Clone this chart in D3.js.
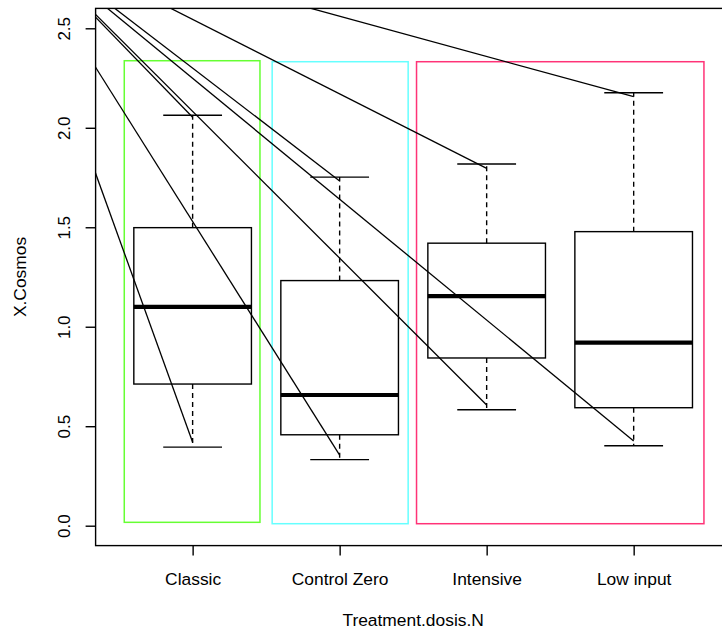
<!DOCTYPE html>
<html>
<head>
<meta charset="utf-8">
<script src="https://cdn.jsdelivr.net/npm/d3@7"></script>
<style>
  html, body { margin: 0; padding: 0; background: #fff; }
  svg { display: block; font-family: "Liberation Sans", Arial, Helvetica, sans-serif; }
</style>
</head>
<body>
<svg id="chart" width="722" height="630"></svg>
<script>
// Treatment groups on the x axis
const categories = ["Classic", "Control Zero", "Intensive", "Low input"];

// Five-number summaries per treatment
const lowerWhisker = [0.395, 0.332, 0.583, 0.402];
const q1           = [0.712, 0.457, 0.843, 0.593];
const medians      = [1.100, 0.657, 1.154, 0.920];
const q3           = [1.498, 1.232, 1.420, 1.478];
const upperWhisker = [2.063, 1.752, 1.818, 2.176];

// Annotation rays: shared origin and the upper/lower end point for each group
const rayOrigin = [-0.27, 3.02];
const rayUpperEnd = [2.053, 1.733, 1.796, 2.156];
const rayLowerEnd = [0.419, 0.355, 0.607, 0.426];

// Grouping rectangles: [x0, x1, y0, y1] in data units
const groupNames = ["Classic", "Control Zero", "Intensive + Low input"];
const groupX0 = [0.535, 1.541, 2.523];
const groupX1 = [1.458, 2.466, 4.478];
const groupY0 = [0.017, 0.010, 0.010];
const groupY1 = [2.337, 2.332, 2.332];
const groupColors = ["#66ff33", "#66ffff", "#ff3377"];

const yTicks = [0, 0.5, 1.0, 1.5, 2.0, 2.5];
const xTitle = "Treatment.dosis.N";
const yTitle = "X.Cosmos";

const svg = d3.select("#chart");
const plot = { left: 95.6, right: 730.7, top: 8.4, bottom: 545.6 };

const x = d3.scaleLinear().domain([0.34, 4.66]).range([plot.left, plot.right]);
const y = d3.scaleLinear().domain([-0.1, 2.6]).range([plot.bottom, plot.top]);

svg.append("defs").append("clipPath").attr("id", "plotClip")
  .append("rect")
  .attr("x", plot.left).attr("y", plot.top)
  .attr("width", plot.right - plot.left).attr("height", plot.bottom - plot.top);

const g = svg.append("g").attr("clip-path", "url(#plotClip)");

const lw = 1.4;
const boxHalf = 0.4, capHalf = 0.2;

// Boxplots
categories.forEach((c, i) => {
  const cx = i + 1;
  const bx = g.append("g");
  // whiskers (dashed)
  bx.append("line")
    .attr("x1", x(cx)).attr("x2", x(cx))
    .attr("y1", y(q3[i])).attr("y2", y(upperWhisker[i]))
    .attr("stroke", "#000").attr("stroke-width", lw).attr("stroke-dasharray", "5,4");
  bx.append("line")
    .attr("x1", x(cx)).attr("x2", x(cx))
    .attr("y1", y(q1[i])).attr("y2", y(lowerWhisker[i]))
    .attr("stroke", "#000").attr("stroke-width", lw).attr("stroke-dasharray", "5,4");
  // caps
  [upperWhisker[i], lowerWhisker[i]].forEach(v => {
    bx.append("line")
      .attr("x1", x(cx - capHalf)).attr("x2", x(cx + capHalf))
      .attr("y1", y(v)).attr("y2", y(v))
      .attr("stroke", "#000").attr("stroke-width", lw);
  });
  // box
  bx.append("rect")
    .attr("x", x(cx - boxHalf)).attr("width", x(cx + boxHalf) - x(cx - boxHalf))
    .attr("y", y(q3[i])).attr("height", y(q1[i]) - y(q3[i]))
    .attr("fill", "none").attr("stroke", "#000").attr("stroke-width", lw);
  // median
  bx.append("line")
    .attr("x1", x(cx - boxHalf)).attr("x2", x(cx + boxHalf))
    .attr("y1", y(medians[i])).attr("y2", y(medians[i]))
    .attr("stroke", "#000").attr("stroke-width", 4.2);
});

// Grouping rectangles
groupNames.forEach((n, i) => {
  g.append("rect")
    .attr("x", x(groupX0[i])).attr("width", x(groupX1[i]) - x(groupX0[i]))
    .attr("y", y(groupY1[i])).attr("height", y(groupY0[i]) - y(groupY1[i]))
    .attr("fill", "none").attr("stroke", groupColors[i]).attr("stroke-width", 1.5);
});

// Rays from the shared origin to each whisker end
categories.forEach((c, i) => {
  [rayUpperEnd[i], rayLowerEnd[i]].forEach(v => {
    g.append("line")
      .attr("x1", x(rayOrigin[0])).attr("y1", y(rayOrigin[1]))
      .attr("x2", x(i + 1)).attr("y2", y(v))
      .attr("stroke", "#000").attr("stroke-width", 1.3);
  });
});

// Plot frame
svg.append("rect")
  .attr("x", plot.left).attr("y", plot.top)
  .attr("width", plot.right - plot.left).attr("height", plot.bottom - plot.top)
  .attr("fill", "none").attr("stroke", "#000").attr("stroke-width", lw);

// Y axis
const yAxis = svg.append("g").attr("transform", `translate(${plot.left},0)`)
  .call(d3.axisLeft(y).tickValues(yTicks).tickSize(10).tickPadding(0)
    .tickFormat(d3.format(".1f")));
yAxis.select(".domain").remove();
yAxis.selectAll(".tick line").attr("stroke", "#000").attr("stroke-width", lw);
yAxis.selectAll(".tick text").remove();
yAxis.selectAll(".tick").append("text")
  .attr("transform", "translate(-25,0) rotate(-90)")
  .attr("text-anchor", "middle")
  .attr("dy", "-0.05em")
  .attr("fill", "#000")
  .style("font-size", "17px")
  .style("font-family", "'Liberation Sans', Arial, sans-serif")
  .text(d => d3.format(".1f")(d));

// X axis
const xAxis = svg.append("g").attr("transform", `translate(0,${plot.bottom})`)
  .call(d3.axisBottom(x).tickValues([1, 2, 3, 4]).tickSize(10).tickPadding(0)
    .tickFormat(d => categories[d - 1]));
xAxis.select(".domain").remove();
xAxis.selectAll(".tick line").attr("stroke", "#000").attr("stroke-width", lw);
xAxis.selectAll(".tick text")
  .attr("y", 39.4).attr("dy", null)
  .attr("fill", "#000")
  .style("font-size", "17.4px")
  .style("font-family", "'Liberation Sans', Arial, sans-serif");

// Axis titles, centred on the plot region
svg.append("text")
  .attr("x", (plot.left + plot.right) / 2).attr("y", 626)
  .attr("text-anchor", "middle")
  .style("font-size", "17.4px")
  .text(xTitle);

svg.append("text")
  .attr("transform", `translate(26,${(plot.top + plot.bottom) / 2}) rotate(-90)`)
  .attr("text-anchor", "middle")
  .style("font-size", "17.4px")
  .text(yTitle);
</script>
</body>
</html>
